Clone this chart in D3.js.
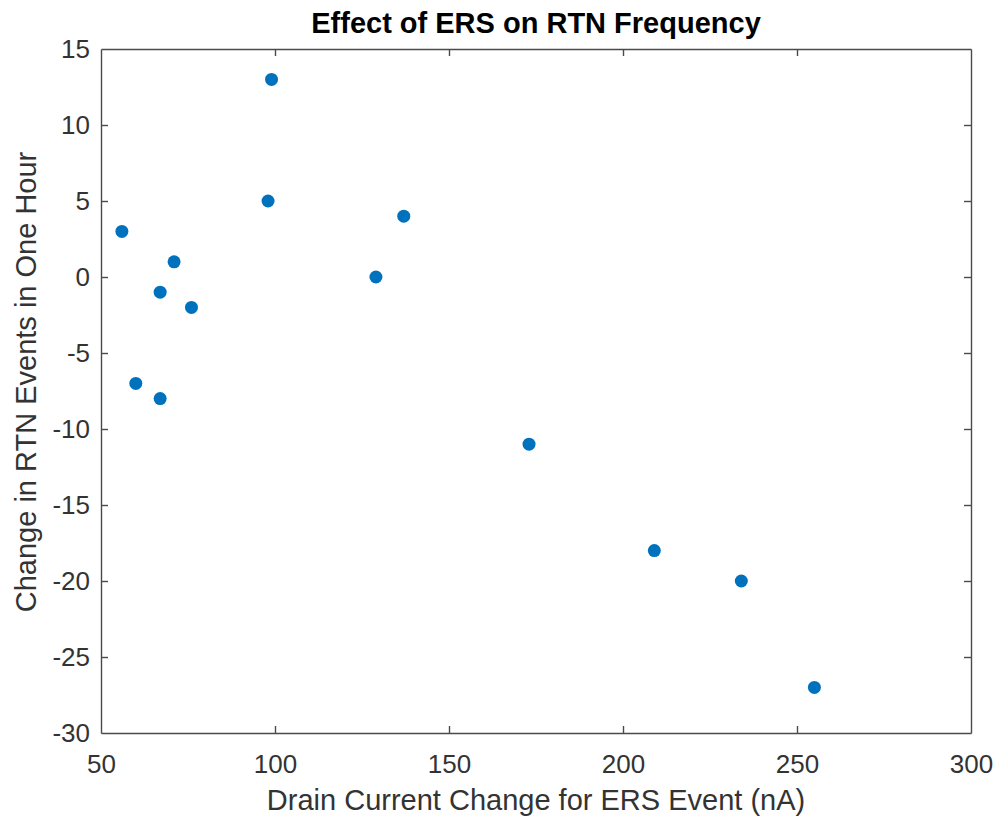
<!DOCTYPE html>
<html>
<head>
<meta charset="utf-8">
<script src="https://cdn.jsdelivr.net/npm/d3@7"></script>
<style>
  html, body { margin: 0; padding: 0; background: #fff; }
  svg { display: block; font-family: "Liberation Sans", Arial, sans-serif; }
</style>
</head>
<body>
<svg id="chart" width="995" height="819"></svg>
<script>
// Drain current change per ERS event (nA) and the resulting change in RTN events per hour
const currentChange = [56, 60, 67, 67, 71, 76, 98, 99, 129, 137, 173, 209, 234, 255];
const rtnChange     = [3, -7, -1, -8, 1, -2, 5, 13, 0, 4, -11, -18, -20, -27];

const xTicks = [50, 100, 150, 200, 250, 300];
const yTicks = [15, 10, 5, 0, -5, -10, -15, -20, -25, -30];

const titleText = "Effect of ERS on RTN Frequency";
const xLabel = "Drain Current Change for ERS Event (nA)";
const yLabel = "Change in RTN Events in One Hour";

const W = 995, H = 819;
const m = { left: 101, right: 971, top: 49, bottom: 733 };
const axisColor = "#4a4a4a";
const textColor = "#333333";
const dotColor = "#0072BD";

const svg = d3.select("#chart");

const x = d3.scaleLinear().domain([50, 300]).range([m.left, m.right]);
const y = d3.scaleLinear().domain([-30, 15]).range([m.bottom, m.top]);

const tickLen = 7;
const plainNumber = d => String(d);  // ASCII hyphen for negatives

// Bottom axis (ticks point inward)
const gx = svg.append("g").attr("transform", `translate(0,${m.bottom})`)
  .call(d3.axisBottom(x).tickValues(xTicks).tickFormat(plainNumber)
    .tickSizeInner(-tickLen).tickSizeOuter(0).tickPadding(22));
// Top axis, ticks only
const gxt = svg.append("g").attr("transform", `translate(0,${m.top})`)
  .call(d3.axisTop(x).tickValues(xTicks).tickSizeInner(-tickLen).tickSizeOuter(0).tickFormat(""));
// Left axis
const gy = svg.append("g").attr("transform", `translate(${m.left},0)`)
  .call(d3.axisLeft(y).tickValues(yTicks).tickFormat(plainNumber)
    .tickSizeInner(-tickLen).tickSizeOuter(0).tickPadding(11));
// Right axis, ticks only
const gyr = svg.append("g").attr("transform", `translate(${m.right},0)`)
  .call(d3.axisRight(y).tickValues(yTicks).tickSizeInner(-tickLen).tickSizeOuter(0).tickFormat(""));

[gx, gxt, gy, gyr].forEach(g => {
  g.select(".domain").attr("stroke", axisColor).attr("stroke-width", 1.4);
  g.selectAll(".tick line").attr("stroke", axisColor).attr("stroke-width", 1.4);
  g.selectAll(".tick text").attr("fill", textColor)
    .style("font-size", "26px").style("font-family", "'Liberation Sans', Arial, sans-serif");
});

// Drop the end ticks that sit on the box corners
gx.selectAll(".tick line").filter(d => d === 50 || d === 300).remove();
gxt.selectAll(".tick line").filter(d => d === 50 || d === 300).remove();
gy.selectAll(".tick line").filter(d => d === 15 || d === -30).remove();
gyr.selectAll(".tick line").filter(d => d === 15 || d === -30).remove();

gx.selectAll(".tick text").attr("dy", "0.71em");

// Data points
svg.append("g").selectAll("circle")
  .data(currentChange.map((v, i) => [v, rtnChange[i]]))
  .join("circle")
  .attr("cx", d => x(d[0]))
  .attr("cy", d => y(d[1]))
  .attr("r", 6.5)
  .attr("fill", dotColor);

// Title
svg.append("text")
  .attr("x", (m.left + m.right) / 2)
  .attr("y", 33)
  .attr("text-anchor", "middle")
  .attr("font-weight", "bold")
  .attr("font-size", 29)
  .attr("fill", "#000")
  .text(titleText);

// X label
svg.append("text")
  .attr("x", (m.left + m.right) / 2)
  .attr("y", 810)
  .attr("text-anchor", "middle")
  .attr("font-size", 29)
  .attr("fill", textColor)
  .text(xLabel);

// Y label
svg.append("text")
  .attr("transform", `translate(36,382) rotate(-90)`)
  .attr("text-anchor", "middle")
  .attr("font-size", 29)
  .attr("fill", textColor)
  .text(yLabel);
</script>
</body>
</html>
